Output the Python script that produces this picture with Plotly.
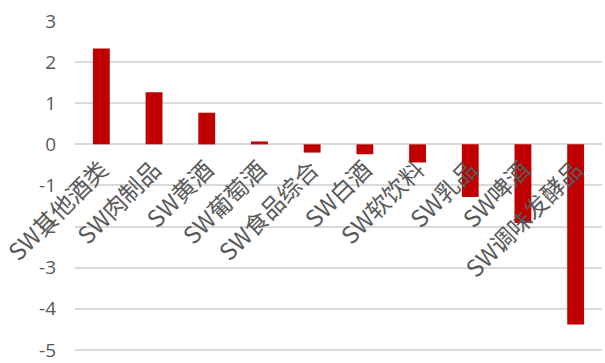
import plotly.graph_objects as go

categories = ["SW其他酒类", "SW肉制品", "SW黄酒", "SW葡萄酒", "SW食品综合",
              "SW白酒", "SW软饮料", "SW乳品", "SW啤酒", "SW调味发酵品"]
values = [2.33, 1.27, 0.77, 0.07, -0.20, -0.24, -0.44, -1.28, -1.91, -4.38]
y_ticks = [3, 2, 1, 0, -1, -2, -3, -4, -5]
y_tick_text = ["3", "2", "1", "0", "-1", "-2", "-3", "-4", "-5"]

fig = go.Figure(go.Bar(x=categories, y=values, marker_color="#C00000",
                       marker_line_width=0))

fig.update_layout(
    width=605, height=363,
    margin=dict(l=75, r=3, t=21, b=0),
    paper_bgcolor="white", plot_bgcolor="white",
    bargap=0.68, showlegend=False,
    font=dict(family="Noto Sans CJK SC", color="#595959"),
)
fig.update_yaxes(
    range=[-5.22, 3.0], tickvals=y_ticks, ticktext=y_tick_text,
    showgrid=True, gridcolor="#D9D9D9",
    gridwidth=1.5, zeroline=True, zerolinecolor="#D9D9D9", zerolinewidth=1.5,
    tickfont=dict(size=19, color="#595959", family="Open Sans"),
    ticklabelstandoff=18, showline=False, ticklabeloverflow="allow",
)
fig.update_xaxes(
    anchor="free", position=5.22 / 8.22, tickangle=-45, showgrid=False,
    showline=False, ticks="", tickfont=dict(size=23.5, color="#595959"),
    ticklabelstandoff=6,
)
fig.write_html("out.html")
